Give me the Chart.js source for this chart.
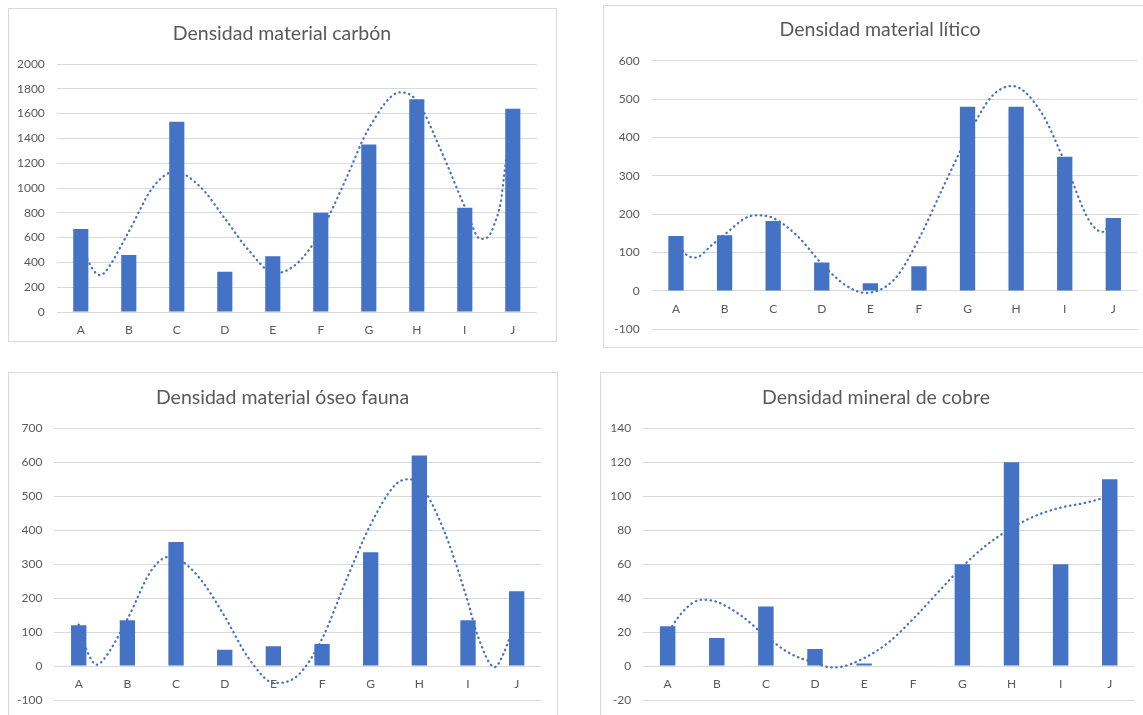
<!DOCTYPE html>
<html>
<head>
<meta charset="utf-8">
<script src="https://cdn.jsdelivr.net/npm/chart.js@4.4.1/dist/chart.umd.min.js"></script>
<style>
  html, body { margin: 0; padding: 0; background: #fff; }
  body { width: 1143px; height: 715px; position: relative; overflow: hidden; }
  .panel { position: absolute; box-sizing: border-box; border: 1px solid #d9d9d9; background: #fff; }
  canvas { position: absolute; }
</style>
</head>
<body>
<div class="panel" style="left:8px;top:8px;width:549px;height:334px"></div>
<div class="panel" style="left:603px;top:5px;width:555px;height:343px"></div>
<div class="panel" style="left:8px;top:372px;width:550px;height:360px"></div>
<div class="panel" style="left:600px;top:372px;width:553px;height:360px"></div>

<canvas id="c1" width="548" height="333" style="left:8px;top:8px"></canvas>
<canvas id="c2" width="554" height="352" style="left:603px;top:5px"></canvas>
<canvas id="c3" width="549" height="353" style="left:8px;top:372px"></canvas>
<canvas id="c4" width="552" height="353" style="left:600px;top:372px"></canvas>

<script>
// Sample categories
const categories = ['A', 'B', 'C', 'D', 'E', 'F', 'G', 'H', 'I', 'J'];

// Densidad material carbón
const carbonValues = [670, 460, 1535, 325, 450, 800, 1350, 1715, 840, 1640];
const carbonTrendX = [0, 0.16, 0.4, 0.5, 1, 1.5, 1.96, 2.5, 3, 3.5, 4.04, 4.5, 5, 5.5, 6, 6.66, 7, 7.5, 8, 8.33, 8.5, 8.61, 8.75, 8.82, 9];
const carbonTrendY = [580, 406, 298, 320, 648, 1005, 1132, 1005, 755, 497, 312, 390, 648, 1051, 1481, 1772, 1704, 1306, 849, 589, 612, 702, 890, 1105, 1645];
const carbonTicks = [0, 2000, 200];

// Densidad material lítico
const liticValues = [143, 145, 182, 74, 20, 64, 480, 480, 350, 190];
const liticTrendX = [0, 0.16, 0.4, 0.75, 1, 1.5, 1.7, 2, 2.5, 3, 3.5, 3.9, 4.5, 5, 5.5, 6, 6.5, 6.92, 7.5, 8, 8.5, 8.78, 9];
const liticTrendY = [140, 101, 87, 121, 147, 194, 197, 190, 143, 71, 14, -5, 31, 136, 271, 402, 507, 534, 469, 336, 184, 154, 190];
const liticTicks = [-100, 600, 100];

// Densidad material óseo fauna
const boneValues = [120, 135, 365, 48, 58, 65, 335, 620, 135, 220];
const boneTrendX = [0, 0.16, 0.37, 0.5, 1, 1.5, 1.84, 2, 2.5, 3, 3.5, 4.03, 4.5, 5, 5.5, 6, 6.5, 6.77, 7, 7.5, 8, 8.18, 8.55, 8.72, 8.84, 9];
const boneTrendY = [122, 48, 4, 17, 138, 283, 321, 318, 256, 146, 21, -50, -28, 80, 254, 417, 533, 550, 537, 401, 188, 97, -3, 33, 77, 140];
const boneTicks = [-100, 700, 100];

// Densidad mineral de cobre
const copperValues = [23.5, 16.5, 35, 10, 1.5, 0, 60, 120, 60, 110];
const copperTrendX = [0, 0.11, 0.5, 0.73, 1, 1.5, 2, 2.5, 3, 3.34, 3.5, 4, 4.5, 5, 5.5, 6, 6.5, 7, 7.5, 8, 8.5, 9];
const copperTrendY = [18, 24.3, 37, 39, 37.8, 29.6, 17.5, 7.3, 1.8, -0.8, -0.6, 4.7, 14, 27.8, 43.3, 58.6, 71.4, 81.2, 88.6, 93.3, 96.1, 100];
const copperTicks = [-20, 140, 20];

const FONT = "Lato, 'Liberation Sans', sans-serif";
const TEXT = '#595959';
const BLUE = '#4472C4';
const GRID = '#d9d9d9';

function drawPanel(id, title, values, trendX, trendY, ticks, box) {
  const trend = trendX.map((x, i) => ({ x: x, y: trendY[i] }));
  new Chart(document.getElementById(id), {
    data: {
      labels: categories,
      datasets: [
        {
          type: 'bar',
          data: values,
          backgroundColor: BLUE,
          grouped: false,
          barPercentage: 0.315,
          categoryPercentage: 1,
          xAxisID: 'x',
          yAxisID: 'y',
          order: 0
        },
        {
          type: 'line',
          data: trend,
          xAxisID: 'xt',
          yAxisID: 'y',
          borderColor: BLUE,
          borderWidth: 2.25,
          borderDash: [0.5, 4.5],
          borderCapStyle: 'round',
          pointRadius: 0,
          cubicInterpolationMode: 'monotone',
          fill: false,
          order: 1
        }
      ]
    },
    options: {
      responsive: false,
      animation: false,
      events: [],
      layout: { padding: { left: 0, right: 0, top: 0, bottom: box.padB } },
      plugins: {
        legend: { display: false },
        tooltip: { enabled: false },
        title: {
          display: true,
          text: title,
          color: TEXT,
          font: { family: FONT, size: 19.5, weight: 'normal' },
          padding: { top: box.titleTop, bottom: box.titleBottom }
        }
      },
      scales: {
        x: {
          type: 'category',
          position: { y: 0 },
          offset: true,
          grid: { display: false },
          border: { display: false },
          ticks: { color: TEXT, font: { family: FONT, size: 12 }, padding: 3, maxRotation: 0 }
        },
        xt: { type: 'linear', display: false, min: -0.5, max: 9.5 },
        y: {
          type: 'linear',
          position: 'left',
          min: ticks[0],
          max: ticks[1],
          ticks: {
            stepSize: ticks[2],
            color: TEXT,
            font: { family: FONT, size: 12 },
            padding: 12,
            callback: (v) => String(v)
          },
          grid: { color: GRID, lineWidth: 1, drawTicks: false },
          border: { display: false },
          afterFit: (s) => { s.width = box.yW; }
        },
        yr: {
          type: 'linear',
          position: 'right',
          grid: { display: false },
          border: { display: false },
          ticks: { display: false },
          afterFit: (s) => { s.width = box.padR; }
        }
      }
    }
  });
}

drawPanel('c1', 'Densidad material carbón', carbonValues, carbonTrendX, carbonTrendY, carbonTicks,
  { yW: 48.8, padR: 19.2, padB: 29, titleTop: 14.3, titleBottom: 18.3 });
drawPanel('c2', 'Densidad material lítico', liticValues, liticTrendX, liticTrendY, liticTicks,
  { yW: 48.7, padR: 19.4, padB: 27.7, titleTop: 13.3, titleBottom: 19 });
drawPanel('c3', 'Densidad material óseo fauna', boneValues, boneTrendX, boneTrendY, boneTicks,
  { yW: 46.4, padR: 16, padB: 25, titleTop: 14.3, titleBottom: 18.6 });
drawPanel('c4', 'Densidad mineral de cobre', copperValues, copperTrendX, copperTrendY, copperTicks,
  { yW: 43.1, padR: 17.7, padB: 25, titleTop: 14.3, titleBottom: 18.6 });
</script>
</body>
</html>
